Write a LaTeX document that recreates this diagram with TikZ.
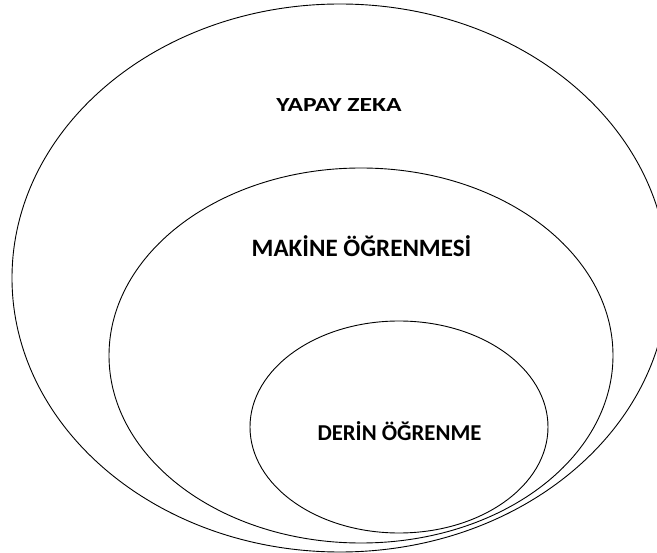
\documentclass[tikz,border=0pt]{standalone}
\usepackage{fontspec}
\setmainfont{Carlito}
\usetikzlibrary{shapes.geometric}
\tikzset{
  set/.style={ellipse, draw=black, line width=0.9pt, inner sep=0pt},
  lbl/.style={text=black, inner sep=0pt}
}
\begin{document}
\begin{tikzpicture}[x=1pt,y=-1pt]
\useasboundingbox (0,0) rectangle (657,553);
\clip (0,0) rectangle (657,553);
\fill[white] (0,0) rectangle (657,553);
\node[set, minimum width=656pt, minimum height=548pt] (ai) at (340,278) {};
\node[set, minimum width=504pt, minimum height=375pt] (ml) at (361,355.5) {};
\node[set, minimum width=298pt, minimum height=212pt] (dl) at (399,427) {};
\node[lbl, font=\fontsize{20}{24}\selectfont\bfseries, xscale=1.28] (t1) at (339,105.5) {YAPAY ZEKA};
\node[lbl, font=\fontsize{25}{28}\selectfont\bfseries] (t2) at (361.5,246) {MAKİNE ÖĞRENMESİ};
\node[lbl, font=\fontsize{22.7}{26}\selectfont\bfseries] (t3) at (399.5,431) {DERİN ÖĞRENME};
\end{tikzpicture}
\end{document}
